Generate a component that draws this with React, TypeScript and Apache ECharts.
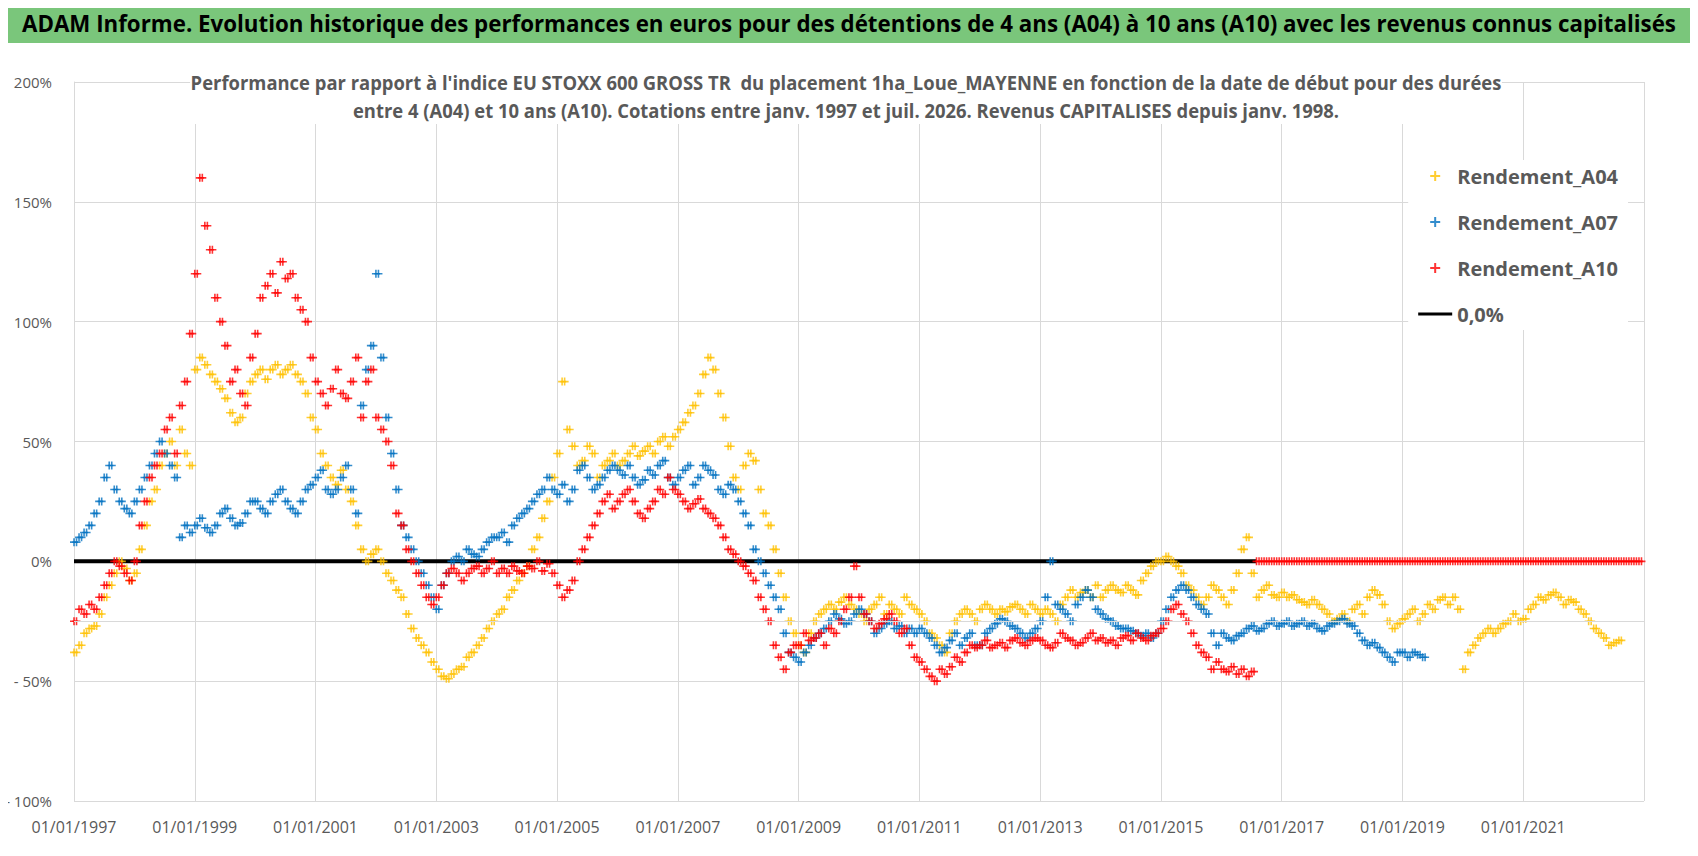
import React, { useEffect, useRef } from "react";
import * as echarts from "echarts";

const START_YEAR = 1997;
const a04Rows: number[][] = [
  [-38,-35,-30,-28,-27,-22,-15,-10,-5,0,-3,-8],
  [-5,5,15,25,30,40,45,50,40,55,45,40],
  [80,85,82,78,75,72,68,62,58,60,70,75],
  [78,80,76,80,82,78,80,82,78,75,70,60],
  [55,45,40,35,32,38,30,25,15,5,0,3],
  [5,0,-5,-8,-12,-15,-22,-28,-32,-35,-38,-42],
  [-45,-48,-49,-47,-45,-44,-40,-38,-35,-32,-28,-25],
  [-22,-20,-15,-12,-8,-5,-2,5,10,18,25,35],
  [45,75,55,48,40,42,48,45,35,40,42,45],
  [40,42,45,48,44,46,48,45,50,52,48,52],
  [55,58,62,65,70,78,85,80,70,60,48,35],
  [30,40,45,42,30,20,15,5,-5,-15,-25,-30],
  [-35,-38,-30,-25,-22,-20,-18,-20,-17,-15,-18,-20],
  [-22,-25,-20,-18,-15,-22,-18,-20,-22,-15,-18,-20],
  [-22,-25,-30,-32,-35,-38,-30,-25,-22,-20,-22,-25],
  [-20,-18,-20,-22,-20,-21,-19,-18,-20,-22,-18,-20],
  [-22,-20,-22,-25,-18,-15,-12,-15,-13,-12,-15,-10],
  [-15,-12,-10,-12,-13,-10,-12,-14,-8,-5,-2,0],
  [0,2,0,-2,-5,-10,-12,-15,-18,-15,-10,-12],
  [-15,-18,-12,-5,5,10,-5,-15,-12,-10,-14,-15],
  [-13,-15,-14,-16,-17,-18,-16,-18,-20,-22,-25,-24],
  [-22,-25,-20,-18,-22,-15,-12,-14,-18,-25,-28,-26],
  [-24,-22,-20,-25,-22,-18,-20,-16,-15,-18,-15,-20],
  [-45,-38,-35,-32,-30,-28,-30,-28,-26,-25,-22,-25],
  [-24,-20,-18,-15,-16,-14,-13,-15,-18,-16,-17,-20],
  [-22,-25,-28,-30,-32,-35,-34,-33],
];
const a07Rows: number[][] = [
  [8,10,12,15,20,25,35,40,30,25,22,20],
  [25,30,35,40,45,50,45,40,35,10,15,12],
  [15,18,14,12,15,20,22,18,15,16,20,25],
  [25,22,20,25,28,30,25,22,20,25,30,32],
  [35,38,30,28,30,35,40,30,20,65,80,90],
  [120,85,60,45,30,15,10,5,0,-5,-10,-15],
  [-20,-10,-5,0,2,0,5,3,2,5,8,10],
  [10,12,8,15,18,20,22,25,28,30,35,30],
  [28,32,25,30,38,40,35,30,32,35,38,40],
  [38,36,40,35,32,34,38,36,40,42,35,32],
  [35,38,40,32,35,40,38,36,30,28,32,30],
  [25,20,15,5,0,-5,-10,-15,-20,-30,-38,-40],
  [-42,-38,-35,-32,-30,-28,-25,-22,-24,-26,-25,-22],
  [-20,-22,-25,-30,-28,-26,-25,-28,-27,-30,-28,-30],
  [-28,-30,-32,-35,-38,-36,-33,-30,-35,-32,-30,-35],
  [-35,-30,-28,-26,-24,-25,-27,-28,-30,-32,-30,-28],
  [-25,-15,0,-18,-20,-22,-25,-18,-15,-12,-15,-20],
  [-22,-24,-25,-27,-28,-28,-29,-30,-31,-30,-32,-30],
  [-25,-20,-15,-12,-10,-12,-15,-18,-20,-22,-30,-35],
  [-30,-32,-33,-31,-30,-28,-27,-29,-28,-26,-25,-27],
  [-26,-25,-27,-26,-25,-27,-26,-28,-29,-27,-26,-25],
  [-24,-26,-27,-30,-33,-35,-34,-36,-38,-40,-42,-38],
  [-38,-40,-38,-39,-40],
];
const a10Rows: number[][] = [
  [-25,-20,-22,-18,-20,-15,-10,-5,0,-2,-5,-8],
  [0,15,25,35,40,45,55,60,45,65,75,95],
  [120,160,140,130,110,100,90,75,80,70,65,85],
  [95,110,115,120,112,125,118,120,110,105,100,85],
  [75,70,65,72,80,70,68,75,85,60,75,80],
  [60,55,50,40,20,15,5,0,-5,-10,-15,-18],
  [-15,-10,-5,-3,-5,-8,-5,-3,-2,-5,-3,0],
  [-5,-3,-5,-2,-4,-5,-2,-3,0,-4,-1,-5],
  [-10,-15,-12,-8,0,5,10,15,20,25,28,22],
  [25,28,30,25,20,18,22,25,30,28,35,30],
  [28,25,22,24,26,22,20,18,15,10,5,3],
  [0,-2,-5,-8,-15,-20,-25,-35,-40,-45,-38,-35],
  [-35,-30,-33,-32,-30,-35,-28,-30,-25,-20,-15,-2],
  [-15,-22,-25,-28,-26,-24,-22,-25,-30,-28,-35,-40],
  [-42,-45,-48,-50,-45,-47,-44,-40,-42,-38,-35,-36],
  [-35,-33,-36,-35,-34,-36,-33,-32,-34,-35,-33,-32],
  [-33,-35,-36,-34,-30,-32,-33,-35,-34,-32,-30,-33],
  [-32,-34,-33,-35,-32,-31,-33,-30,-32,-33,-31,-30],
  [-28,-25,-20,-18,-22,-25,-30,-35,-38,-40,-45,-42],
  [-45,-46,-44,-47,-45,-48,-46,0,0,0,0,0],
  [0,0,0,0,0,0,0,0,0,0,0,0],
  [0,0,0,0,0,0,0,0,0,0,0,0],
  [0,0,0,0,0,0,0,0,0,0,0,0],
  [0,0,0,0,0,0,0,0,0,0,0,0],
  [0,0,0,0,0,0,0,0,0,0,0,0],
  [0,0,0,0,0,0,0,0,0,0,0,0],
];
const zeroLine: [number, number][] = [[1997, 0], [2016.58, 0]];
const xTicks = [1997, 1999, 2001, 2003, 2005, 2007, 2009, 2011, 2013, 2015, 2017, 2019, 2021];

const toPoints = (rows: number[][]) => {
  const out: [number, number][] = [];
  rows.forEach((r, yi) => r.forEach((v, m) => {
    out.push([START_YEAR + yi + m / 12, v]);
    out.push([START_YEAR + yi + (m + 0.5) / 12, v]);
  }));
  return out;
};

const PLUS = "path://M4,0H6V4H10V6H6V10H4V6H0V4H4Z";
const FONT = "'Open Sans', sans-serif";

export default function App() {
  const ref = useRef<HTMLDivElement>(null);
  useEffect(() => {
    const chart = echarts.init(ref.current!, null, { renderer: "svg" });
    const sc = (name: string, color: string, rows: number[][]) => ({
      name, type: "scatter", symbol: PLUS, symbolSize: 8, data: toPoints(rows),
      itemStyle: { color }, z: 3,
    });
    chart.setOption({
      animation: false,
      backgroundColor: "#fff",
      grid: { left: 74, right: 54, top: 82, bottom: 55 },
      graphic: [
        { type: "rect", shape: { x: 1, y: 1, width: 1694, height: 852 }, style: { fill: "none", stroke: "#a0a0a0", lineWidth: 1 }, z: -1 },
        { type: "rect", shape: { x: 2, y: 2, width: 1692, height: 41 }, style: { fill: "#7ac67b" } },
        { type: "text", x: 849, y: 23, scaleX: 0.93, style: { text: "ADAM Informe. Evolution historique des performances en euros pour des détentions de 4 ans (A04) à 10 ans (A10) avec les revenus connus capitalisés", font: `bold 24px ${FONT}`, fill: "#000", align: "center", verticalAlign: "middle" } },
        { type: "text", x: 846, y: 96, scaleX: 0.97, style: { text: "Performance par rapport à l'indice EU STOXX 600 GROSS TR  du placement 1ha_Loue_MAYENNE en fonction de la date de début pour des durées\nentre 4 (A04) et 10 ans (A10). Cotations entre janv. 1997 et juil. 2026. Revenus CAPITALISES depuis janv. 1998.", font: `bold 19px ${FONT}`, lineHeight: 28, fill: "#595959", align: "center", verticalAlign: "middle", backgroundColor: "#fff" }, z: 10 },
      ],
      legend: {
        orient: "vertical", right: 70, top: 160, itemGap: 26, itemWidth: 34, itemHeight: 10,
        backgroundColor: "#fff", padding: [6, 10, 6, 10],
        textStyle: { fontFamily: FONT, fontWeight: "bold", fontSize: 20, color: "#595959" },
        data: [
          { name: "Rendement_A04" }, { name: "Rendement_A07" }, { name: "Rendement_A10" },
          { name: "0,0%", icon: "path://M0,4H34V7H0Z", itemStyle: { color: "#000" } },
        ],
      },
      xAxis: {
        type: "value", min: 1997, max: 2023, interval: 2,
        axisLine: { show: false }, axisTick: { show: false },
        splitLine: { show: true, lineStyle: { color: "#d9d9d9" } },
        axisLabel: { formatter: (v: number) => (xTicks.includes(v) ? `01/01/${v}` : ""), fontFamily: FONT, fontSize: 16, color: "#595959", margin: 18 },
      },
      yAxis: {
        type: "value", min: -100, max: 200, interval: 50,
        axisLine: { show: true, lineStyle: { color: "#d9d9d9" } }, axisTick: { show: false },
        splitLine: { lineStyle: { color: "#d9d9d9" } },
        axisLabel: { formatter: (v: number) => (v < 0 ? `- ${-v}%` : `${v}%`), fontFamily: FONT, fontSize: 15, color: "#595959", margin: 22 },
      },
      series: [
        {
          name: "0,0%", type: "line", data: zeroLine, symbol: "none", z: 2,
          lineStyle: { color: "#000", width: 4 }, itemStyle: { color: "#000" },
          markLine: { silent: true, symbol: "none", label: { show: false }, lineStyle: { color: "#d9d9d9", type: "solid", width: 1 }, data: [{ yAxis: -25 }] },
        },
        sc("Rendement_A04", "#ffc000", a04Rows),
        sc("Rendement_A07", "#0070c0", a07Rows),
        sc("Rendement_A10", "#ff0000", a10Rows),
      ],
    });
    return () => chart.dispose();
  }, []);
  return <div ref={ref} style={{ width: 1698, height: 856, margin: -8 }} />;
}
